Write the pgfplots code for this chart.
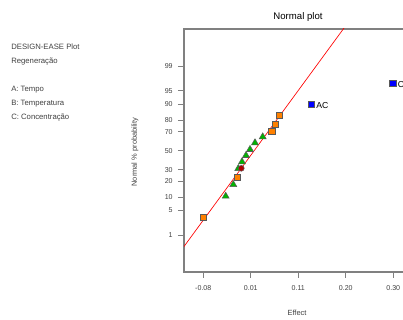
\documentclass[border=0pt]{standalone}
\usepackage{pgfplots}
\pgfplotsset{compat=1.18}
\usepackage{fontspec}
\setmainfont{Liberation Sans}
\definecolor{orng}{HTML}{FF8000}
\definecolor{grn}{HTML}{00B400}
\definecolor{blu}{HTML}{0000FF}
\definecolor{dred}{HTML}{B00000}
\definecolor{axgray}{HTML}{808080}
\definecolor{txtgray}{HTML}{404040}
\newcommand{\px}[2]{({(#1-184)*0.75pt},{(272-#2)*0.75pt})}
\begin{document}
\begin{tikzpicture}
\begin{axis}[
  at={(0,0)}, anchor=south west,
  scale only axis, width=171pt, height=182.25pt,
  xmin=-0.1186, xmax=0.3374, ymin=-3.332, ymax=3.343,
  axis line style={axgray, line width=0.9pt},
  tick style={axgray, line width=0.6pt},
  tick align=outside, xtick pos=bottom, ytick pos=left,
  major tick length=4.5pt,
  xtick={-0.08,0.015,0.11,0.205,0.30},
  xticklabels={-0.08,0.01,0.11,0.20,0.30},
  ytick={-2.3263,-1.6449,-1.2816,-0.8416,-0.5244,0,0.5244,0.8416,1.2816,1.6449,2.3263},
  yticklabels={1,5,10,20,30,50,70,80,90,95,99},
  ticklabel style={font=\fontsize{5.3pt}{6pt}\selectfont, text=txtgray},
  yticklabel style={xshift=-0.5pt},
  xticklabel style={yshift=-2.5pt},
  clip=true,
  nodes near coords style={font=\fontsize{6.5pt}{7pt}\selectfont, anchor=west, xshift=0.3pt, yshift=-1pt},
]
\addplot[red, line width=0.5pt] coordinates {(-0.1500,-3.22) (0.2200,3.718)};
\addplot[only marks, mark=square*, mark size=2.3pt, mark options={fill=orng, draw=black!65, line width=0.4pt}] coordinates {
(-0.080,-1.83) (-0.012,-0.72) (0.0568,0.533) (0.064,0.733) (0.072,0.981)};
\addplot[only marks, mark=triangle*, mark size=3.0pt, mark options={fill=grn, draw=black!65, line width=0.4pt}] coordinates {
(-0.0352,-1.25) (-0.020,-0.93) (-0.010,-0.49) (-0.0026,-0.305) (0.0054,-0.132) (0.0134,0.033) (0.0234,0.217) (0.0388,0.381)};
\addplot[only marks, mark=*, mark size=2.2pt, mark options={fill=dred, draw=black!65, line width=0.4pt}] coordinates {(-0.004,-0.484)};
\addplot[only marks, mark=square*, mark size=2.3pt, mark options={fill=blu, draw=black!65, line width=0.4pt},
  nodes near coords, point meta=explicit symbolic] coordinates {(0.136,1.283) [AC] (0.2988,1.841) [C]};
\end{axis}
\tikzset{lt/.style={anchor=west, inner sep=0pt, font=\fontsize{5.8pt}{6.5pt}\selectfont, text=txtgray}}
\node[lt] at \px{11}{47} {DESIGN-EASE Plot};
\node[lt] at \px{11}{62} {Regeneração};
\node[lt] at \px{11}{90} {A: Tempo};
\node[lt] at \px{11}{104} {B: Temperatura};
\node[lt] at \px{11}{118} {C: Concentração};
\node[font=\fontsize{7.2pt}{8pt}\selectfont] at \px{298}{17} {Normal plot};
\node[font=\fontsize{5.6pt}{6pt}\selectfont, text=txtgray] at \px{297}{313} {Effect};
\node[rotate=90, font=\fontsize{5.6pt}{6pt}\selectfont, text=txtgray] at \px{135}{152} {Normal \% probability};
\pgfresetboundingbox
\path[use as bounding box] \px{0}{320} rectangle \px{403}{0};
\end{tikzpicture}
\end{document}
